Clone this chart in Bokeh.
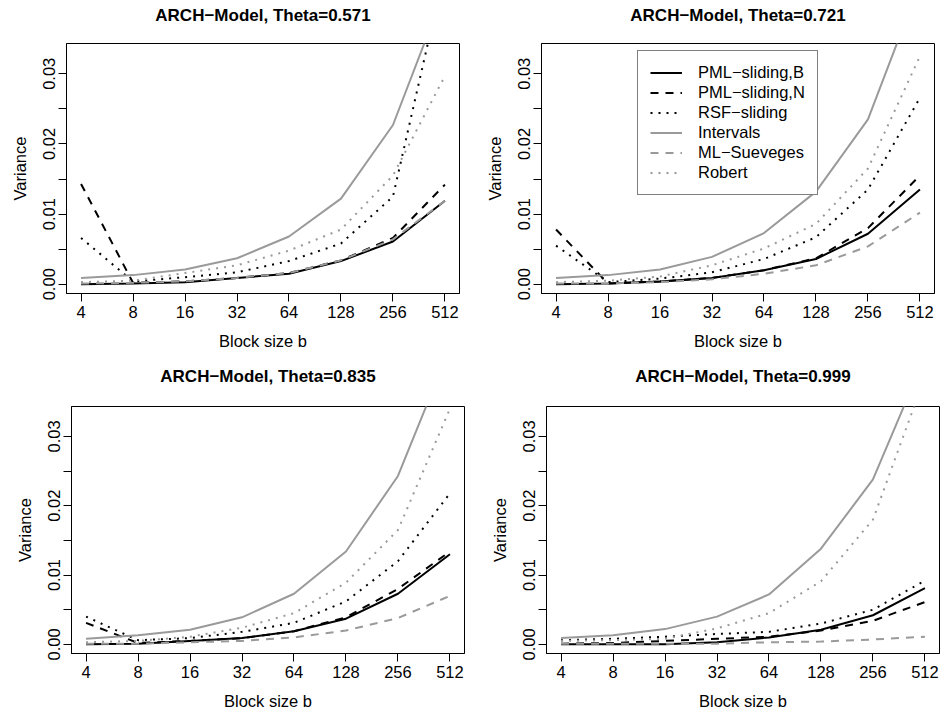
from bokeh.plotting import figure
from bokeh.models import Range1d, FixedTicker, Legend, LegendItem, PrintfTickFormatter, Title
from bokeh.layouts import column, row
from bokeh.embed import file_html
from bokeh.resources import INLINE

# ---------------- data ----------------
block_sizes = [4, 8, 16, 32, 64, 128, 256, 512]
x_tick_labels = ["4", "8", "16", "32", "64", "128", "256", "512"]
y_ticks = [0.0, 0.005, 0.01, 0.015, 0.02, 0.025, 0.03]
y_tick_labels = ["0.00", "", "0.01", "", "0.02", "", "0.03"]
series_names = ["PML\u2212sliding,B", "PML\u2212sliding,N", "RSF\u2212sliding",
                "Intervals", "ML\u2212Sueveges", "Robert"]
thetas = ["0.571", "0.721", "0.835", "0.999"]

# Theta = 0.571
pml_b_571 = [0.0000, 0.0001, 0.0003, 0.0009, 0.0015, 0.0033, 0.0061, 0.0119]
pml_n_571 = [0.0143, 0.0002, 0.0004, 0.0009, 0.0016, 0.0034, 0.0066, 0.0142]
rsf_571 = [0.0066, 0.0004, 0.0010, 0.0017, 0.0033, 0.0058, 0.0125, 0.0450]
intervals_571 = [0.0009, 0.0013, 0.0021, 0.0037, 0.0068, 0.0122, 0.0227, 0.0420]
sueveges_571 = [0.0001, 0.0002, 0.0004, 0.0009, 0.0016, 0.0034, 0.0064, 0.0119]
robert_571 = [0.0003, 0.0005, 0.0016, 0.0027, 0.0048, 0.0078, 0.0155, 0.0297]

# Theta = 0.721
pml_b_721 = [0.0000, 0.0001, 0.0004, 0.0009, 0.0020, 0.0036, 0.0072, 0.0135]
pml_n_721 = [0.0078, 0.0001, 0.0004, 0.0009, 0.0020, 0.0037, 0.0080, 0.0155]
rsf_721 = [0.0055, 0.0003, 0.0008, 0.0017, 0.0036, 0.0067, 0.0135, 0.0266]
intervals_721 = [0.0009, 0.0013, 0.0021, 0.0039, 0.0073, 0.0132, 0.0235, 0.0429]
sueveges_721 = [0.0001, 0.0001, 0.0003, 0.0007, 0.0015, 0.0027, 0.0054, 0.0102]
robert_721 = [0.0003, 0.0005, 0.0011, 0.0027, 0.0051, 0.0086, 0.0165, 0.0325]

# Theta = 0.835
pml_b_835 = [0.0000, 0.0001, 0.0005, 0.0009, 0.0019, 0.0037, 0.0073, 0.0130]
pml_n_835 = [0.0031, 0.0002, 0.0005, 0.0009, 0.0019, 0.0039, 0.0080, 0.0134]
rsf_835 = [0.0040, 0.0006, 0.0009, 0.0018, 0.0031, 0.0062, 0.0120, 0.0218]
intervals_835 = [0.0008, 0.0013, 0.0021, 0.0039, 0.0073, 0.0134, 0.0243, 0.0428]
sueveges_835 = [0.0001, 0.0001, 0.0003, 0.0005, 0.0010, 0.0020, 0.0038, 0.0070]
robert_835 = [0.0003, 0.0005, 0.0011, 0.0024, 0.0045, 0.0089, 0.0165, 0.0340]

# Theta = 0.999
pml_b_999 = [0.0000, 0.0000, 0.0000, 0.0003, 0.0010, 0.0021, 0.0042, 0.0081]
pml_n_999 = [0.0001, 0.0002, 0.0005, 0.0008, 0.0011, 0.0020, 0.0034, 0.0061]
rsf_999 = [0.0006, 0.0008, 0.0011, 0.0015, 0.0018, 0.0030, 0.0050, 0.0092]
intervals_999 = [0.0009, 0.0013, 0.0022, 0.0040, 0.0072, 0.0138, 0.0238, 0.0415]
sueveges_999 = [0.0001, 0.0001, 0.0001, 0.0001, 0.0003, 0.0004, 0.0007, 0.0011]
robert_999 = [0.0005, 0.0006, 0.0008, 0.0023, 0.0045, 0.0091, 0.0180, 0.0386]

panels = [
    [pml_b_571, pml_n_571, rsf_571, intervals_571, sueveges_571, robert_571],
    [pml_b_721, pml_n_721, rsf_721, intervals_721, sueveges_721, robert_721],
    [pml_b_835, pml_n_835, rsf_835, intervals_835, sueveges_835, robert_835],
    [pml_b_999, pml_n_999, rsf_999, intervals_999, sueveges_999, robert_999],
]

# ---------------- styles ----------------
GRAY = "#9a9a9a"
styles = [
    dict(color="black", dash="solid"),
    dict(color="black", dash="8 7"),
    dict(color="black", dash="2 6"),
    dict(color=GRAY, dash="solid"),
    dict(color=GRAY, dash="8 7"),
    dict(color=GRAY, dash="2 6"),
]
FONT = "Liberation Sans"

# (width, height, left, right, top, bottom, gap between title and frame)
geoms = [
    (471, 356, 66, 12, 43, 63, 16),
    (471, 356, 70, 8, 43, 63, 16),
    (471, 356, 71, 7, 50, 56, 18),
    (471, 356, 75, 3, 50, 56, 18),
]

figs = []
for i, (theta, data) in enumerate(zip(thetas, panels)):
    w, h, bl, br, bt, bb, gap = geoms[i]
    p = figure(width=w, height=h, output_backend="svg", toolbar_location=None,
               x_axis_type="log",
               x_range=Range1d(2 ** 1.72, 2 ** 9.28),
               y_range=Range1d(-0.00132, 0.03432),
               min_border_left=bl, min_border_right=br,
               min_border_top=bt, min_border_bottom=bb,
               title="ARCH\u2212Model, Theta=" + theta,
               x_axis_label="Block size b", y_axis_label="Variance")
    # invisible spacer between title and frame
    p.add_layout(Title(text=" ", text_font_size="1px", standoff=gap), "above")
    p.title.text_font = FONT
    p.title.text_font_size = "17px"
    p.title.text_font_style = "bold"
    p.title.align = "center"
    p.title.vertical_align = "bottom"
    p.title.text_color = "black"
    p.title.standoff = 0
    p.xgrid.visible = False
    p.ygrid.visible = False
    p.outline_line_color = "black"
    p.outline_line_width = 1
    p.background_fill_color = "white"
    p.border_fill_color = "white"

    for ax in (p.xaxis[0], p.yaxis[0]):
        ax.axis_line_color = "black"
        ax.major_tick_line_color = "black"
        ax.major_tick_out = 8
        ax.major_tick_in = 0
        ax.minor_tick_line_color = None
        ax.major_label_text_font = FONT
        ax.major_label_text_font_size = "16.5px"
        ax.major_label_text_color = "black"
        ax.axis_label_text_font = FONT
        ax.axis_label_text_font_size = "16.5px"
        ax.axis_label_text_font_style = "normal"
        ax.axis_label_text_color = "black"

    p.xaxis.ticker = FixedTicker(ticks=block_sizes)
    p.xaxis.formatter = PrintfTickFormatter(format="%d")
    p.xaxis.major_label_standoff = 4
    p.xaxis.axis_label_standoff = 11

    p.yaxis.ticker = FixedTicker(ticks=y_ticks)
    p.yaxis.major_label_overrides = {t: lab for t, lab in zip(y_ticks, y_tick_labels)}
    p.yaxis.major_label_orientation = "vertical"
    p.yaxis.major_label_standoff = 3
    p.yaxis.axis_label_standoff = 12

    renderers = []
    for vals, st in zip(data, styles):
        r = p.line(block_sizes, vals, line_color=st["color"], line_width=2,
                   line_dash=st["dash"])
        renderers.append(r)

    if i == 1:
        items = [LegendItem(label=n, renderers=[r]) for n, r in zip(series_names, renderers)]
        leg = Legend(items=items, location=(96, 98),
                     label_text_font=FONT, label_text_font_size="16.5px",
                     label_text_color="black",
                     glyph_width=32, glyph_height=19, label_height=19,
                     label_width=106, label_standoff=16, spacing=1,
                     padding=12, margin=0,
                     border_line_color="black", border_line_width=1,
                     background_fill_color="white", background_fill_alpha=1.0)
        p.add_layout(leg, "center")
    figs.append(p)

layout = column(row(figs[0], figs[1]), row(figs[2], figs[3]))
open("out.html", "w").write(file_html(layout, INLINE))
